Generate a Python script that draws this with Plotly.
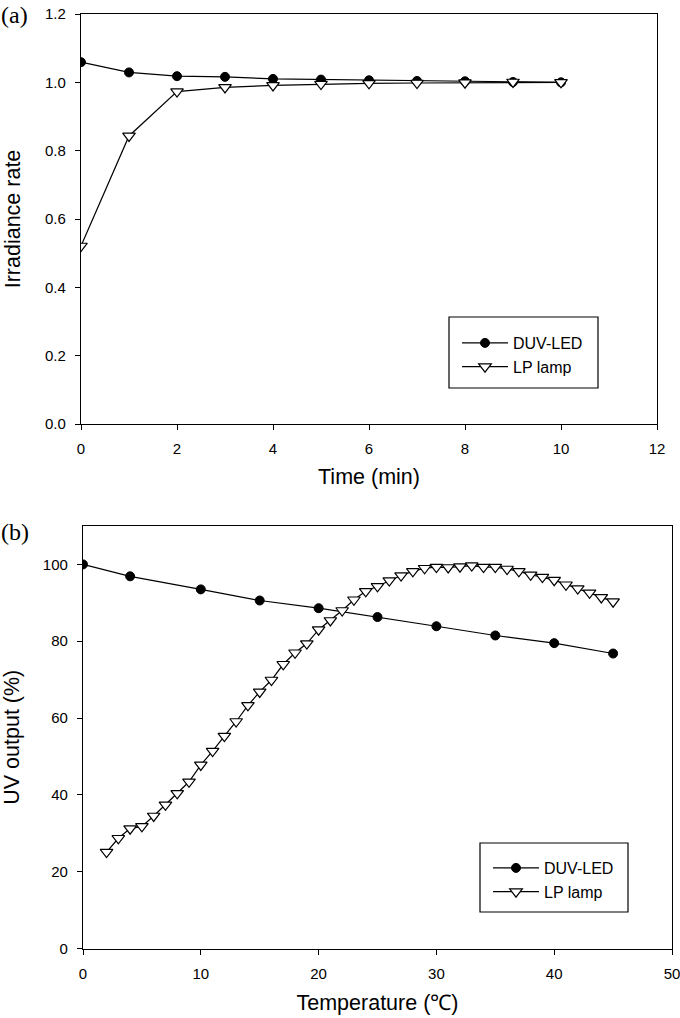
import plotly.graph_objects as go

# ---- Panel (a) data ----
time_min = [0, 1, 2, 3, 4, 5, 6, 7, 8, 9, 10]
a_duv = [1.059, 1.029, 1.018, 1.016, 1.010, 1.008, 1.006, 1.004, 1.003, 1.001, 1.000]
a_lp = [0.521, 0.843, 0.973, 0.985, 0.991, 0.995, 0.997, 0.998, 0.999, 1.001, 1.000]

# ---- Panel (b) data ----
temp_duv = [0, 4, 10, 15, 20, 25, 30, 35, 40, 45]
b_duv = [100.0, 96.9, 93.5, 90.6, 88.6, 86.3, 83.9, 81.5, 79.5, 76.8]
temp_lp = list(range(2, 46))
b_lp = [25.1, 28.7, 31.2, 31.8, 34.5, 37.4, 40.4, 43.4, 47.8, 51.4,
        55.3, 59.1, 63.3, 66.8, 69.9, 74.0, 77.0, 79.4, 83.0, 85.4,
        88.0, 90.8, 93.0, 94.3, 95.8, 97.1, 98.2, 99.0, 99.3, 99.2,
        99.4, 99.7, 99.3, 99.3, 98.8, 98.2, 97.3, 96.7, 95.9, 94.7,
        93.7, 92.6, 91.4, 90.3]

a_xticks = [0, 2, 4, 6, 8, 10, 12]
a_yticks = [0.0, 0.2, 0.4, 0.6, 0.8, 1.0, 1.2]
b_xticks = [0, 10, 20, 30, 40, 50]
b_yticks = [0, 20, 40, 60, 80, 100]

W, H = 680, 1018
FONT = "Liberation Sans, Arial, sans-serif"

def px_x(p):
    return p / W

def px_y(p):
    return 1 - p / H

line_style = dict(color="black", width=1.2)
circ = dict(symbol="circle", size=9, color="black", line=dict(color="black", width=1))
tri = dict(symbol="triangle-down", size=11, color="white", line=dict(color="black", width=1.2))

fig = go.Figure()
fig.add_trace(go.Scatter(x=time_min, y=a_duv, mode="lines+markers", name="DUV-LED",
                         line=line_style, marker=circ, xaxis="x", yaxis="y",
                         legend="legend", legendgroup="a1"))
fig.add_trace(go.Scatter(x=time_min, y=a_lp, mode="lines+markers", name="LP lamp",
                         line=line_style, marker=tri, xaxis="x", yaxis="y",
                         legend="legend", legendgroup="a2"))
fig.add_trace(go.Scatter(x=temp_duv, y=b_duv, mode="lines+markers", name="DUV-LED",
                         line=line_style, marker=circ, xaxis="x2", yaxis="y2",
                         legend="legend2", legendgroup="b1"))
fig.add_trace(go.Scatter(x=temp_lp, y=b_lp, mode="lines+markers", name="LP lamp",
                         line=line_style, marker=tri, xaxis="x2", yaxis="y2",
                         legend="legend2", legendgroup="b2"))

axis_common = dict(showgrid=False, zeroline=False, showline=True, linecolor="black",
                   linewidth=1.2, mirror=True, ticks="outside", ticklen=5, tickwidth=1.2,
                   tickcolor="black", automargin=False, ticklabelstandoff=6,
                   ticklabeloverflow="allow",
                   tickfont=dict(family=FONT, size=15, color="black"))
title_font = dict(family=FONT, size=21.5, color="black")

fig.update_layout(
    width=W, height=H,
    margin=dict(l=0, r=0, t=0, b=0, autoexpand=False),
    paper_bgcolor="white", plot_bgcolor="white",
    showlegend=True,
    xaxis=dict(domain=[px_x(81), px_x(657)], anchor="y", range=[0, 12],
               tickvals=a_xticks, ticktext=[str(v) for v in a_xticks],
               title=dict(text="Time (min)", font=title_font, standoff=12), **axis_common),
    yaxis=dict(domain=[px_y(424), px_y(14)], anchor="x", range=[0, 1.2],
               tickvals=a_yticks, ticktext=[f"{v:.1f}" for v in a_yticks],
               title=dict(text="Irradiance rate", font=title_font, standoff=18), **axis_common),
    xaxis2=dict(domain=[px_x(83), px_x(672)], anchor="y2", range=[0, 50],
                tickvals=b_xticks, ticktext=[str(v) for v in b_xticks],
                title=dict(text="Temperature (℃)", font=title_font, standoff=14), **axis_common),
    yaxis2=dict(domain=[px_y(948.5), px_y(526)], anchor="x2", range=[0, 110],
                tickvals=b_yticks, ticktext=[str(v) for v in b_yticks],
                title=dict(text="UV output (%)", font=title_font, standoff=18), **axis_common),
    legend=dict(x=px_x(457), y=px_y(326), xanchor="left", yanchor="top",
                bgcolor="rgba(0,0,0,0)", borderwidth=0, itemwidth=46,
                tracegroupgap=0, traceorder="grouped",
                font=dict(family=FONT, size=16, color="black")),
    legend2=dict(x=px_x(488), y=px_y(851), xanchor="left", yanchor="top",
                 bgcolor="rgba(0,0,0,0)", borderwidth=0, itemwidth=46,
                 tracegroupgap=0, traceorder="grouped",
                 font=dict(family=FONT, size=16, color="black")),
    shapes=[
        dict(type="rect", xref="paper", yref="paper", x0=px_x(449), x1=px_x(598),
             y0=px_y(388), y1=px_y(317), line=dict(color="black", width=1.2)),
        dict(type="rect", xref="paper", yref="paper", x0=px_x(480), x1=px_x(628),
             y0=px_y(912), y1=px_y(843), line=dict(color="black", width=1.2)),
    ],
    annotations=[
        dict(text="(a)", xref="paper", yref="paper", x=px_x(-1), y=px_y(15),
             xanchor="left", yanchor="middle", showarrow=False,
             font=dict(family="Liberation Serif, Times New Roman, serif", size=24, color="black")),
        dict(text="(b)", xref="paper", yref="paper", x=px_x(-1), y=px_y(532),
             xanchor="left", yanchor="middle", showarrow=False,
             font=dict(family="Liberation Serif, Times New Roman, serif", size=24, color="black")),
    ],
    hovermode=False,
)

fig.write_html("out.html", config={"displayModeBar": False},
               post_script="document.body.style.margin='0';document.body.style.padding='0';")
